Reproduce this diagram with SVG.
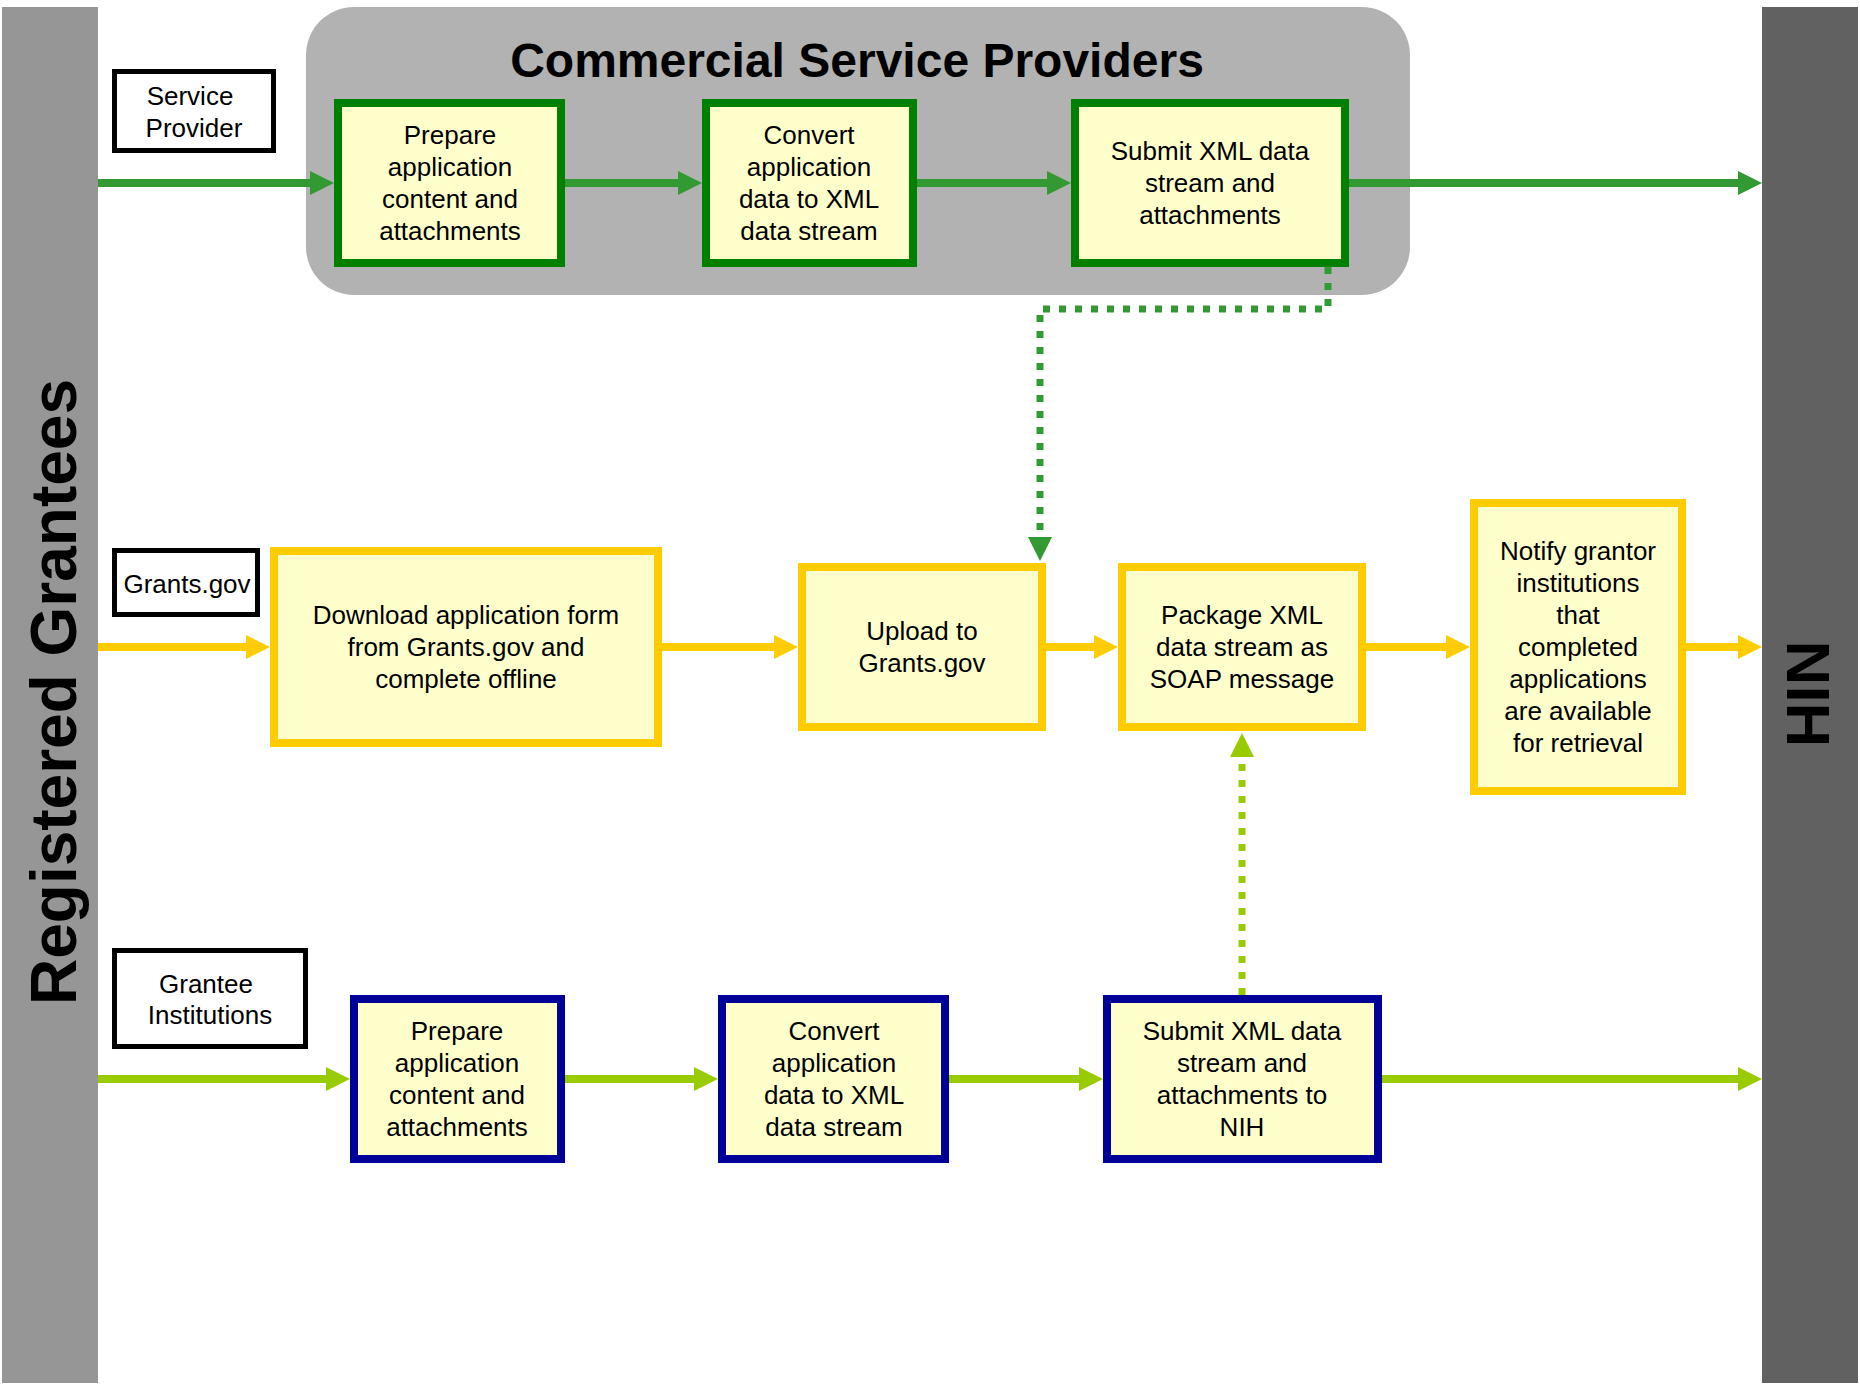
<svg xmlns="http://www.w3.org/2000/svg" width="1860" height="1389" viewBox="0 0 1860 1389">
<style>
  text { font-family: "Liberation Sans", Arial, sans-serif; fill: #000; }
  .t { font-size: 26px; text-anchor: middle; }
  .lbl { fill: #fff; stroke: #000; stroke-width: 5; }
  .gbox { fill: #FFFFCC; stroke: #008000; stroke-width: 8; }
  .ybox { fill: #FFFFCC; stroke: #FFCC00; stroke-width: 8; }
  .bbox { fill: #FFFFCC; stroke: #000099; stroke-width: 8; }
  .cg { fill: none; stroke: #339933; stroke-width: 8; }
  .cy { fill: none; stroke: #FFCC00; stroke-width: 8; }
  .cl { fill: none; stroke: #99CC00; stroke-width: 8; }
  .dot { stroke-width: 7; stroke-dasharray: 7 9; }
  .big { font-size: 64px; font-weight: bold; text-anchor: middle; }
</style>
<defs>
  <marker id="ag" markerUnits="userSpaceOnUse" markerWidth="24" markerHeight="24" refX="0" refY="12" orient="auto"><path d="M0,0 L24,12 L0,24 z" fill="#339933"/></marker>
  <marker id="ay" markerUnits="userSpaceOnUse" markerWidth="24" markerHeight="24" refX="0" refY="12" orient="auto"><path d="M0,0 L24,12 L0,24 z" fill="#FFCC00"/></marker>
  <marker id="al" markerUnits="userSpaceOnUse" markerWidth="24" markerHeight="24" refX="0" refY="12" orient="auto"><path d="M0,0 L24,12 L0,24 z" fill="#99CC00"/></marker>
</defs>
<rect width="1860" height="1389" fill="#fff"/>

<g id="lane-registered-grantees">
  <rect x="2" y="7" width="96" height="1376" fill="#969696"/>
  <text class="big" transform="translate(76,692) rotate(-90)">Registered Grantees</text>
</g>
<g id="lane-nih">
  <rect x="1762" y="7" width="96" height="1376" fill="#616161"/>
  <text class="big" font-size="62" transform="translate(1787,694) rotate(90)" style="font-size:62px">NIH</text>
</g>

<g id="commercial-service-providers">
  <rect x="306" y="7" width="1104" height="288" rx="48" ry="48" fill="#B2B2B2"/>
  <text x="857" y="77" font-size="48" font-weight="bold" text-anchor="middle">Commercial Service Providers</text>
</g>

<g id="connectors">
  <path class="cg" d="M98,183 H310" marker-end="url(#ag)"/>
  <path class="cg" d="M565,183 H678" marker-end="url(#ag)"/>
  <path class="cg" d="M917,183 H1047" marker-end="url(#ag)"/>
  <path class="cg" d="M1349,183 H1738" marker-end="url(#ag)"/>
  <path class="cg dot" d="M1328,267 V309 H1040 V537" marker-end="url(#ag)"/>

  <path class="cy" d="M98,647 H246" marker-end="url(#ay)"/>
  <path class="cy" d="M662,647 H774" marker-end="url(#ay)"/>
  <path class="cy" d="M1046,647 H1094" marker-end="url(#ay)"/>
  <path class="cy" d="M1366,647 H1446" marker-end="url(#ay)"/>
  <path class="cy" d="M1686,647 H1738" marker-end="url(#ay)"/>

  <path class="cl" d="M98,1079 H326" marker-end="url(#al)"/>
  <path class="cl" d="M565,1079 H694" marker-end="url(#al)"/>
  <path class="cl" d="M949,1079 H1079" marker-end="url(#al)"/>
  <path class="cl" d="M1382,1079 H1738" marker-end="url(#al)"/>
  <path class="cl dot" d="M1242,995 V757" marker-end="url(#al)"/>
</g>

<g id="label-service-provider">
  <rect class="lbl" x="114.5" y="71.5" width="159" height="79"/>
  <text class="t"><tspan x="190" y="105">Service</tspan><tspan x="194" y="137">Provider</tspan></text>
</g>
<g id="label-grants-gov">
  <rect class="lbl" x="114.5" y="550.5" width="143" height="64"/>
  <text class="t" x="187" y="593">Grants.gov</text>
</g>
<g id="label-grantee-institutions">
  <rect class="lbl" x="114.5" y="950.5" width="191" height="96"/>
  <text class="t"><tspan x="206" y="993">Grantee</tspan><tspan x="210" y="1024">Institutions</tspan></text>
</g>

<g id="csp-prepare">
  <rect class="gbox" x="338" y="103" width="223" height="160"/>
  <text class="t"><tspan x="450" y="144">Prepare</tspan><tspan x="450" y="176">application</tspan><tspan x="450" y="208">content and</tspan><tspan x="450" y="240">attachments</tspan></text>
</g>
<g id="csp-convert">
  <rect class="gbox" x="706" y="103" width="207" height="160"/>
  <text class="t"><tspan x="809" y="144">Convert</tspan><tspan x="809" y="176">application</tspan><tspan x="809" y="208">data to XML</tspan><tspan x="809" y="240">data stream</tspan></text>
</g>
<g id="csp-submit">
  <rect class="gbox" x="1075" y="103" width="270" height="160"/>
  <text class="t"><tspan x="1210" y="160">Submit XML data</tspan><tspan x="1210" y="192">stream and</tspan><tspan x="1210" y="224">attachments</tspan></text>
</g>

<g id="gg-download">
  <rect class="ybox" x="274" y="551" width="384" height="192"/>
  <text class="t"><tspan x="466" y="624">Download application form</tspan><tspan x="466" y="656">from Grants.gov and</tspan><tspan x="466" y="688">complete offline</tspan></text>
</g>
<g id="gg-upload">
  <rect class="ybox" x="802" y="567" width="240" height="160"/>
  <text class="t"><tspan x="922" y="640">Upload to</tspan><tspan x="922" y="672">Grants.gov</tspan></text>
</g>
<g id="gg-package">
  <rect class="ybox" x="1122" y="567" width="240" height="160"/>
  <text class="t"><tspan x="1242" y="624">Package XML</tspan><tspan x="1242" y="656">data stream as</tspan><tspan x="1242" y="688">SOAP message</tspan></text>
</g>
<g id="gg-notify">
  <rect class="ybox" x="1474" y="503" width="208" height="288"/>
  <text class="t"><tspan x="1578" y="560">Notify grantor</tspan><tspan x="1578" y="592">institutions</tspan><tspan x="1578" y="624">that</tspan><tspan x="1578" y="656">completed</tspan><tspan x="1578" y="688">applications</tspan><tspan x="1578" y="720">are available</tspan><tspan x="1578" y="752">for retrieval</tspan></text>
</g>

<g id="gi-prepare">
  <rect class="bbox" x="354" y="999" width="207" height="160"/>
  <text class="t"><tspan x="457" y="1040">Prepare</tspan><tspan x="457" y="1072">application</tspan><tspan x="457" y="1104">content and</tspan><tspan x="457" y="1136">attachments</tspan></text>
</g>
<g id="gi-convert">
  <rect class="bbox" x="722" y="999" width="223" height="160"/>
  <text class="t"><tspan x="834" y="1040">Convert</tspan><tspan x="834" y="1072">application</tspan><tspan x="834" y="1104">data to XML</tspan><tspan x="834" y="1136">data stream</tspan></text>
</g>
<g id="gi-submit">
  <rect class="bbox" x="1107" y="999" width="271" height="160"/>
  <text class="t"><tspan x="1242" y="1040">Submit XML data</tspan><tspan x="1242" y="1072">stream and</tspan><tspan x="1242" y="1104">attachments to</tspan><tspan x="1242" y="1136">NIH</tspan></text>
</g>
</svg>
